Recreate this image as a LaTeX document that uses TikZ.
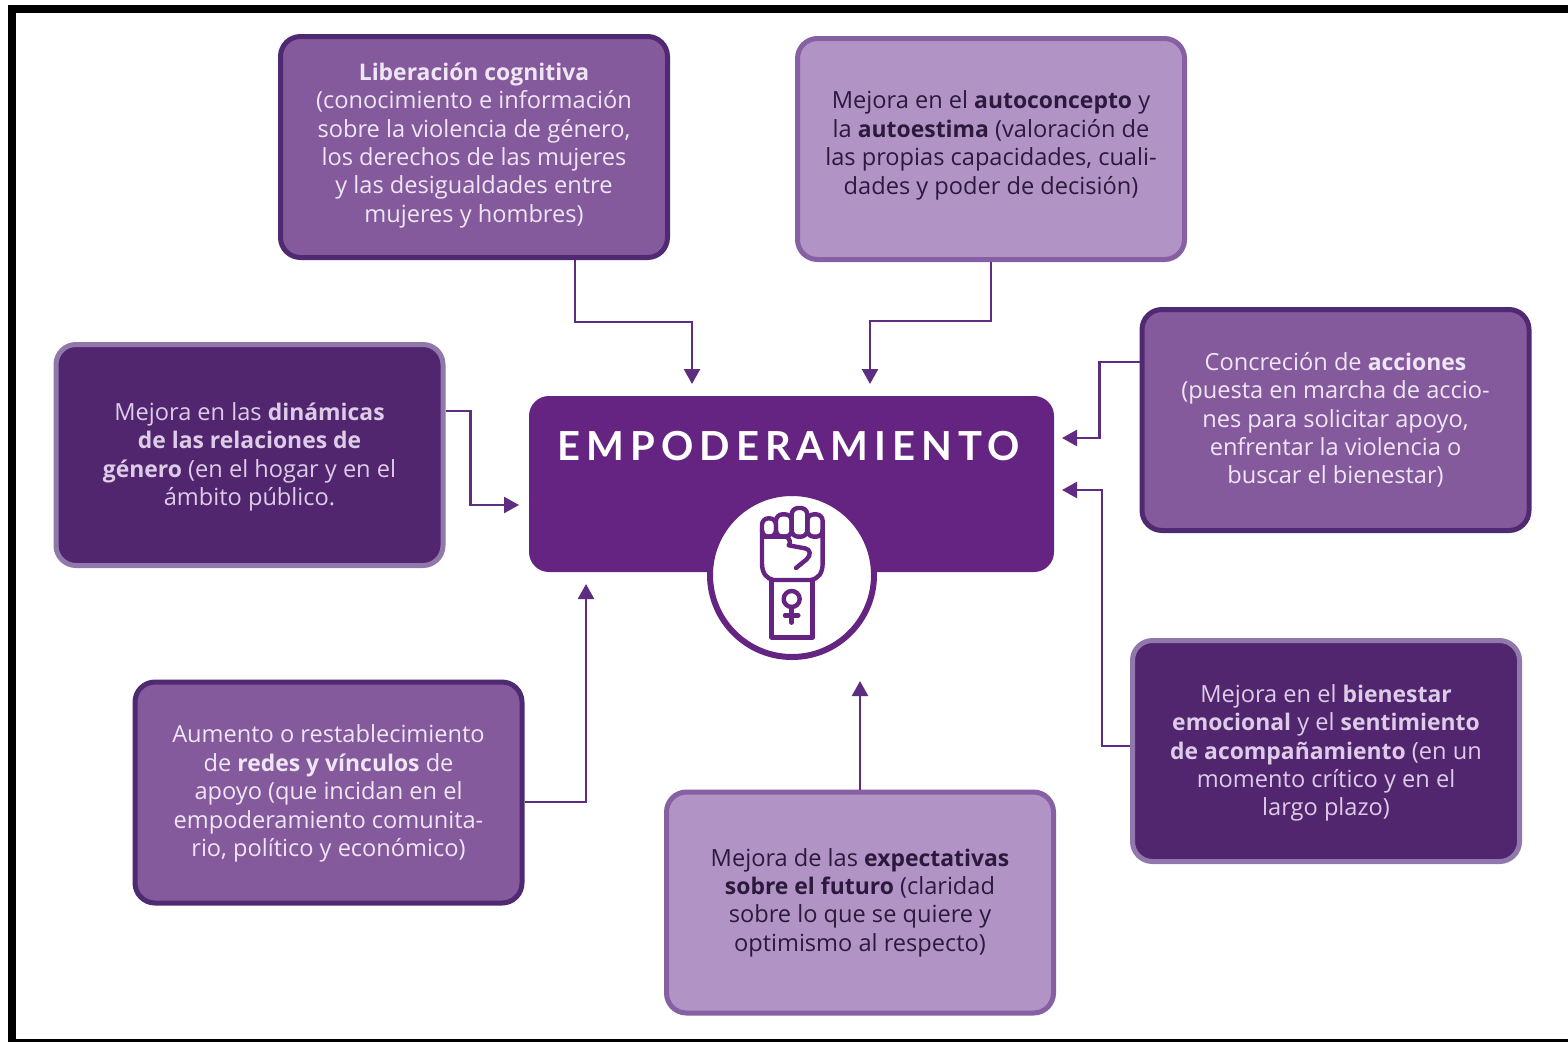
\documentclass[tikz,border=0pt]{standalone}
\usepackage{fontspec}
\setmainfont{Open Sans}
\newfontfamily\titlefont[LetterSpace=15]{Lato}
\usetikzlibrary{arrows.meta}
\definecolor{fillmid}{HTML}{845A9D}
\definecolor{bordmid}{HTML}{4F2A72}
\definecolor{filllight}{HTML}{B194C5}
\definecolor{bordlight}{HTML}{8660A3}
\definecolor{filldark}{HTML}{52266E}
\definecolor{borddark}{HTML}{9077AC}
\definecolor{centre}{HTML}{652382}
\definecolor{linkc}{HTML}{5E2C80}
\definecolor{textdark}{HTML}{2B1A3C}
\definecolor{textsoft}{HTML}{EFE6F4}
\definecolor{textdk}{HTML}{DCCCE8}
\newcommand{\up}[1]{\rule[-#1pt]{0pt}{0pt}}
\newcommand{\dn}[1]{\rule{0pt}{#1pt}}
\newcommand{\bd}[1]{{\bfseries\fontsize{22.9pt}{28.4pt}\selectfont #1}}
\tikzset{
 x=1pt,y=-1pt,
 card/.style={rectangle,rounded corners=20pt,line width=5pt,minimum width=387pt,minimum height=221pt,align=center,font=\fontsize{23.6pt}{28.4pt}\selectfont,inner sep=0pt},
 cardmid/.style={card,fill=fillmid,draw=bordmid,text=textsoft},
 cardlight/.style={card,fill=filllight,draw=bordlight,text=textdark},
 carddark/.style={card,fill=filldark,draw=borddark,text=textdk},
 link/.style={draw=linkc,line width=2.4pt,-{Triangle[length=15pt,width=16pt]}},
 iconline/.style={draw=centre,line width=4.4pt,line join=round,line cap=round}
}
\begin{document}
\begin{tikzpicture}
\useasboundingbox (0,0) rectangle (1568,1042);
\fill[white] (0,0) rectangle (1568,1042);
% frame
\fill[black] (8,5) rectangle (1568,13);
\fill[black] (8,5) rectangle (16,1042);
\fill[black] (8,1039) rectangle (1568,1042);

\node[rectangle,rounded corners=20pt,fill=centre,minimum width=525pt,minimum height=176pt,inner sep=0pt] (core) at (791.5,484) {};
\node[text=white,font=\titlefont\bfseries\fontsize{40pt}{40pt}\selectfont,inner sep=0pt] (title) at (788.5,446) {EMPODERAMIENTO};
\node[circle,fill=white,draw=centre,line width=6pt,minimum size=164pt,inner sep=0pt] (badge) at (792,575) {};

\begin{scope}[shift={(690,480)},x=0.3333pt,y=-0.3333pt]
 % fingers
 \draw[iconline,rounded corners=6.5pt] (216,115) rectangle (258,170);
 \draw[iconline,rounded corners=6.5pt] (258,103) rectangle (305,170);
 \draw[iconline,rounded corners=6.5pt] (305,84) rectangle (352,170);
 \draw[iconline,rounded corners=6.5pt] (352,103) rectangle (398,170);
 \fill[white] (270,176) rectangle (392,300);
 % palm
 \draw[iconline] (216,150) -- (216,250) .. controls (216,280) and (230,296) .. (250,300) -- (362,300)
   .. controls (385,296) and (398,280) .. (398,250) -- (398,150);
 % thumb
 \draw[iconline] (222,170) -- (288,170) .. controls (298,172) and (304,190) .. (296,196) -- (345,205)
   .. controls (362,208) and (364,225) .. (350,238) -- (318,264);
 % cuff
 \draw[iconline] (245,300) -- (245,472) -- (368,472) -- (368,300);
 % female sign
 \draw[iconline] (305,357) circle[radius=24];
 \draw[iconline] (305,381) -- (305,428);
 \draw[iconline] (285,406) -- (325,406);
\end{scope}

\node[cardmid] (liberacion) at (474,147) {\bd{Liberación cognitiva}\\(conocimiento e información\\sobre la violencia de género,\\los derechos de las mujeres\\y las desigualdades entre\\mujeres y hombres)\up{9}};
\node[cardlight] (autoconcepto) at (991,149) {Mejora en el \bd{autoconcepto} y\\la \bd{autoestima} (valoración de\\las propias capacidades, cuali-\\dades y poder de decisión)\up{13}};
\node[carddark] (dinamicas) at (249.5,455) {\dn{22}Mejora en las \bd{dinámicas}\\\bd{de las relaciones de}\\\bd{género} (en el hogar y en el\\ámbito público.};
\node[cardmid] (acciones) at (1335.5,420) {Concreción de \bd{acciones}\\(puesta en marcha de accio-\\nes para solicitar apoyo,\\enfrentar la violencia o\\buscar el bienestar)};
\node[carddark] (bienestar) at (1326,751) {\dn{22}Mejora en el \bd{bienestar}\\\bd{emocional} y el \bd{sentimiento}\\\bd{de acompañamiento} (en un\\momento crítico y en el\\largo plazo)};
\node[cardmid] (redes) at (328.5,792.5) {\dn{20}Aumento o restablecimiento\\de \bd{redes y vínculos} de\\apoyo (que incidan en el\\empoderamiento comunita-\\rio, político y económico)};
\node[cardlight] (futuro) at (860,902.5) {Mejora de las \bd{expectativas}\\\bd{sobre el futuro} (claridad\\sobre lo que se quiere y\\optimismo al respecto)};

\coordinate (inA) at (692,384);
\coordinate (inB) at (870,384);
\coordinate (inC) at (519,505);
\coordinate (inD) at (1062,438);
\coordinate (inE) at (1062,490);
\coordinate (inF) at (586,584);
\coordinate (inG) at (860,681);

\draw[link] ([xshift=101pt]liberacion.south) -- ++(0,62) -| (inA);
\draw[link] (autoconcepto.south) -- ++(0,59) -| (inB);
\draw[link] ([yshift=44pt]dinamicas.east) -- ++(25,0) |- (inC);
\draw[link] ([yshift=58pt]acciones.west) -- ++(-40,0) |- (inD);
\draw[link] ([yshift=5pt]bienestar.west) -- ++(-28,0) |- (inE);
\draw[link] ([yshift=-9.5pt]redes.east) -| (inF);
\draw[link] (futuro.north) -- (inG);
\end{tikzpicture}
\end{document}
